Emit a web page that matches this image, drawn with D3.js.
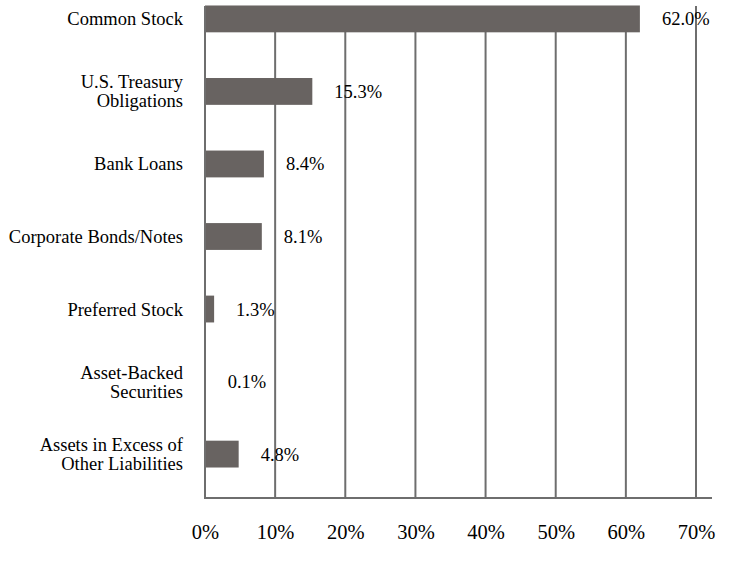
<!DOCTYPE html>
<html>
<head>
<meta charset="utf-8">
<script src="https://cdn.jsdelivr.net/npm/d3@7"></script>
<style>
  body { margin: 0; background: #fff; }
  svg { display: block; }
  text { font-family: "Liberation Serif", "Times New Roman", serif; fill: #000; }
</style>
</head>
<body>
<div class="chart"></div>
<script>
// data
const categories = [
  "Common Stock",
  "U.S. Treasury\nObligations",
  "Bank Loans",
  "Corporate Bonds/Notes",
  "Preferred Stock",
  "Asset-Backed\nSecurities",
  "Assets in Excess of\nOther Liabilities"
]
const values = [62.0, 15.3, 8.4, 8.1, 1.3, 0.1, 4.8]
const tickValues = [0, 10, 20, 30, 40, 50, 60, 70]

const width = 752
const height = 572
const barColor = "#686361"
const lineColor = "#6e6e6e"

const svg = d3.select(".chart")
  .append("svg")
    .attr("width", width)
    .attr("height", height)

const x = d3.scaleLinear()
  .domain([0, 70])
  .range([205, 696])

const y = d3.scaleBand()
  .domain(categories)
  .range([-17, 490])
  .paddingInner(0.63)
  .paddingOuter(0.31)

const plotTop = 6
const plotBottom = 498

// vertical grid lines
svg.append("g")
  .selectAll("line")
  .data(tickValues.slice(1))
  .join("line")
    .attr("x1", d => x(d))
    .attr("x2", d => x(d))
    .attr("y1", plotTop)
    .attr("y2", plotBottom)
    .attr("stroke", lineColor)
    .attr("stroke-width", 2)

// bars
svg.append("g")
  .selectAll("rect")
  .data(values)
  .join("rect")
    .attr("x", x(0))
    .attr("y", (d, i) => y(categories[i]))
    .attr("width", d => x(d) - x(0))
    .attr("height", y.bandwidth())
    .attr("fill", barColor)

// axis lines
svg.append("line")
  .attr("x1", x(0)).attr("x2", x(0))
  .attr("y1", plotTop).attr("y2", plotBottom)
  .attr("stroke", lineColor).attr("stroke-width", 2)
svg.append("line")
  .attr("x1", x(0) - 1).attr("x2", x(70) + 16)
  .attr("y1", plotBottom).attr("y2", plotBottom)
  .attr("stroke", lineColor).attr("stroke-width", 2)

// value labels
svg.append("g")
  .selectAll("text")
  .data(values)
  .join("text")
    .attr("x", d => x(d) + 22)
    .attr("y", (d, i) => y(categories[i]) + y.bandwidth() / 2)
    .attr("dy", "0.35em")
    .attr("font-size", 18.5)
    .text(d => d.toFixed(1) + "%")

// category labels, one text per line
const lineGap = 19
const labelRows = []
categories.forEach(c => {
  const lines = c.split("\n")
  const mid = y(c) + y.bandwidth() / 2
  lines.forEach((line, i) => {
    labelRows.push({ text: line, y: mid + (i - (lines.length - 1) / 2) * lineGap })
  })
})

svg.append("g")
  .selectAll("text")
  .data(labelRows)
  .join("text")
    .attr("x", 183)
    .attr("y", d => d.y)
    .attr("dy", "0.35em")
    .attr("text-anchor", "end")
    .attr("font-size", 18.5)
    .text(d => d.text)

// bottom tick labels
const xAxis = d3.axisBottom(x)
  .tickValues(tickValues)
  .tickSize(0)
  .tickPadding(0)
  .tickFormat(d => d + "%")

svg.append("g")
  .attr("transform", "translate(0,524)")
  .call(xAxis)
  .call(g => g.select(".domain").remove())
  .call(g => g.selectAll("text")
    .attr("font-size", 20.5)
    .attr("font-family", "Liberation Serif, Times New Roman, serif")
    .attr("fill", "#000"))
</script>
</body>
</html>
